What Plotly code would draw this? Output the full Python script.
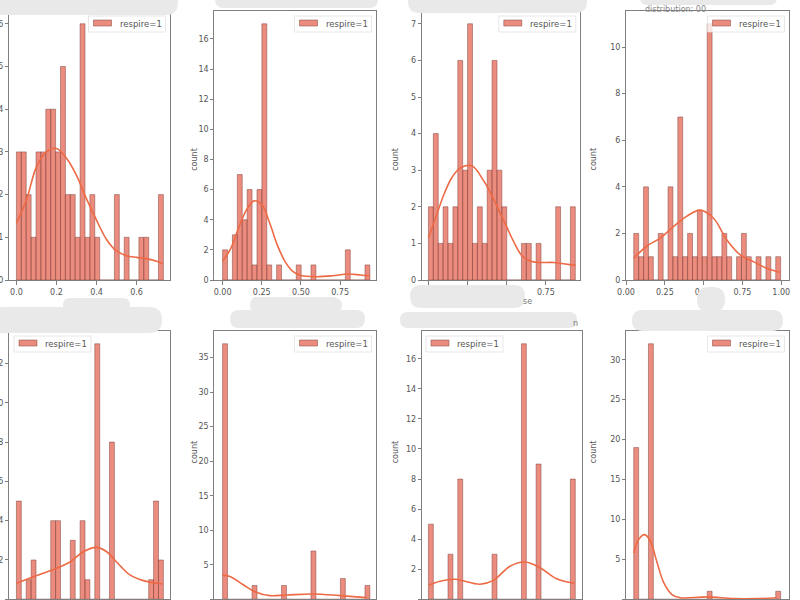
import numpy as np
import plotly.graph_objects as go

W = 800
H = 600
BAR_FILL = "rgba(228,96,76,0.72)"
BAR_EDGE = "rgba(120,62,54,0.6)"
KDE_COLOR = "#EE6A45"
FRAME = "#7f7f7f"
TEXT = "#555555"
SERIES = "respire=1"

# histogram counts, 30 bins each
counts_1 = [3,3,2,1,3,3,4,4,3,5,2,2,1,6,1,2,1,0,0,0,2,0,1,0,0,1,1,0,0,2]
counts_2 = [2,0,3,7,4,6,1,6,17,1,0,1,0,0,0,1,0,0,1,0,0,0,0,0,0,2,0,0,0,1]
counts_3 = [2,4,1,2,1,2,6,3,7,1,2,1,3,6,3,2,0,0,0,1,1,0,1,0,0,0,2,0,0,2]
counts_4 = [2,1,4,1,0,2,0,4,1,7,1,2,1,3,1,11,1,1,2,1,0,1,2,1,0,1,0,1,0,1]
counts_5 = [5,0,1,2,0,0,0,4,4,0,0,3,0,4,1,0,13,0,0,8,0,0,0,0,0,0,0,1,5,2]
counts_6 = [37,0,0,0,0,0,2,0,0,0,0,0,2,0,0,0,0,0,7,0,0,0,0,0,3,0,0,0,0,2]
counts_7 = [5,0,0,0,3,0,8,0,0,0,0,0,0,3,0,0,0,0,0,17,0,0,9,0,0,0,0,0,0,8]
counts_8 = [19,0,0,32,0,0,0,0,0,0,0,0,0,0,0,1,0,0,0,0,0,0,0,0,0,0,0,0,0,1]

# smallest and largest value of each feature
lo_hi = [(0, 0.734), (0, 0.94), (0, 0.938), (0.05, 0.996),
         (0, 0.734), (0, 0.94), (0, 0.938), (0.05, 0.996)]

# density curves
kde_x_1 = [0,.05,.1,.15,.2,.25,.3,.35,.4,.45,.5,.55,.6,.65,.7,.73]
kde_y_1 = [1.33,1.87,2.65,3.0,3.08,2.85,2.45,1.9,1.4,.95,.68,.57,.53,.5,.44,.38]
kde_x_2 = [0,.05,.1,.15,.2,.25,.3,.35,.4,.45,.5,.6,.7,.8,.88,.94]
kde_y_2 = [1.25,2.05,3.4,4.6,5.25,5.0,3.8,2.3,1.2,.55,.3,.22,.28,.4,.33,.27]
kde_x_3 = [0,.05,.1,.15,.2,.277,.35,.4,.45,.5,.55,.6,.65,.7,.8,.85,.94]
kde_y_3 = [1.15,1.75,2.35,2.8,3.05,3.12,2.73,2.35,1.9,1.45,1.0,.65,.52,.48,.48,.45,.4]
kde_x_4 = [.05,.135,.22,.307,.39,.478,.564,.65,.736,.82,.908,.994]
kde_y_4 = [.93,1.46,1.8,2.3,2.73,3.0,2.65,1.72,1.08,.79,.5,.32]
kde_x_5 = [0,.085,.185,.268,.334,.401,.451,.5,.567,.634,.729]
kde_y_5 = [.81,1.15,1.52,1.9,2.42,2.64,2.42,1.9,1.24,.95,.78]
kde_x_6 = [0,.047,.132,.206,.302,.409,.579,.749,.919]
kde_y_6 = [3.5,3.3,2.1,1.1,.53,.63,.77,.53,.24]
kde_x_7 = [0,.074,.17,.33,.415,.521,.617,.713,.819,.934]
kde_y_7 = [.93,1.2,1.33,1.0,1.26,2.2,2.48,2.1,1.37,1.06]
kde_x_8 = [.05,.082,.12,.157,.2,.243,.296,.35,.521,.693,.843,.97]
kde_y_8 = [5.8,7.5,8.1,7.3,4.6,2.1,.6,.2,.3,.08,.08,.2]

all_counts = [counts_1, counts_2, counts_3, counts_4, counts_5, counts_6, counts_7, counts_8]
all_kde = [(kde_x_1, kde_y_1), (kde_x_2, kde_y_2), (kde_x_3, kde_y_3), (kde_x_4, kde_y_4),
           (kde_x_5, kde_y_5), (kde_x_6, kde_y_6), (kde_x_7, kde_y_7), (kde_x_8, kde_y_8)]

# frames in pixels: left, right, top, bottom
frames = [(9,170,11,280), (214.3,376,11,280), (421.7,580.3,11,280), (626,789,11,280),
          (9,170,331,599.3), (214.3,376,331,599.3), (421.7,581.7,331,599.3), (626,789,331,599.3)]
x_ranges = [[-.037,.767], [-.053,.979], [-.043,.970], [0,1.05],
            [-.037,.767], [-.053,.979], [-.043,.979], [0,1.05]]
y_tops = [6.3, 17.85, 7.35, 11.55, 13.65, 38.85, 17.85, 33.6]
y_steps = [1, 2, 1, 2, 2, 5, 2, 5]
x_ticks = [[0,.2,.4,.6], [0,.25,.5,.75], [0,.25,.5,.75], [0,.25,.5,.75,1]]
x_fmt = [".1f", ".2f", ".2f", ".2f"]
legend_left = {4: 14, 6: 426}

# grey smears over the titles
smears = [(-10,178,-10,15), (215,378,-10,8), (408,587,-10,13), (640,777,-10,5),
          (410,525,285,308), (400,577,312,328), (-10,162,307,333), (63,130,298,312),
          (230,365,310,328), (250,342,298,312), (632,783,310,331), (697,725,287,312),
          (252,337,297,304)]


def px(v):
    return v / W


def py(v):
    return 1 - v / H


def blob(x0, x1, y0, y1):
    r = (y1 - y0) / 2
    return (f"M{px(x0+r)},{py(y0)} L{px(x1-r)},{py(y0)} Q{px(x1)},{py(y0)} {px(x1)},{py(y0+r)} "
            f"Q{px(x1)},{py(y1)} {px(x1-r)},{py(y1)} L{px(x0+r)},{py(y1)} "
            f"Q{px(x0)},{py(y1)} {px(x0)},{py(y0+r)} Q{px(x0)},{py(y0)} {px(x0+r)},{py(y0)} Z")


def paper_rect(x0, x1, y0, y1, fill, line):
    return dict(type="rect", xref="paper", yref="paper", x0=px(x0), x1=px(x1), y0=py(y0), y1=py(y1),
                fillcolor=fill, line=line, layer="above")


fig = go.Figure()
layout = {}
shapes = [dict(type="path", path=blob(*s), xref="paper", yref="paper",
               fillcolor="#e9e9e9", line=dict(width=0), layer="above") for s in smears]
notes = [
    dict(text="distribution: 00", x=px(708), y=py(3), xref="paper", yref="paper",
         showarrow=False, font=dict(size=8, color="#888888")),
    dict(text="se", x=px(527), y=py(301), xref="paper", yref="paper",
         showarrow=False, font=dict(size=8, color="#777777")),
    dict(text="n", x=px(580), y=py(323), xref="paper", yref="paper",
         showarrow=False, font=dict(size=8, color="#777777")),
]

for i in range(8):
    n = i + 1
    suffix = "" if n == 1 else str(n)
    edges = np.linspace(lo_hi[i][0], lo_hi[i][1], 31)
    fig.add_trace(go.Bar(x=edges[:-1], y=all_counts[i], width=edges[1] - edges[0], offset=0,
                         marker=dict(color=BAR_FILL, line=dict(color=BAR_EDGE, width=0.8)),
                         name=SERIES, showlegend=False, xaxis="x" + suffix, yaxis="y" + suffix))
    fig.add_trace(go.Scatter(x=all_kde[i][0], y=all_kde[i][1], mode="lines",
                             line=dict(color=KDE_COLOR, width=1.6, shape="spline"),
                             showlegend=False, xaxis="x" + suffix, yaxis="y" + suffix))
    l, r, t, b = frames[i]
    xa = dict(domain=[l / W, r / W], range=x_ranges[i], anchor="y" + suffix, showgrid=False,
              zeroline=False, showline=True, mirror=True, linecolor=FRAME, linewidth=1)
    if i < 4:
        xa.update(tickmode="array", tickvals=x_ticks[i], tickformat=x_fmt[i], ticks="outside",
                  ticklen=4, tickcolor=FRAME, tickfont=dict(size=8, color=TEXT))
    else:
        xa.update(showticklabels=False, ticks="")
    ya = dict(domain=[1 - b / H, 1 - t / H], range=[0, y_tops[i]], anchor="x" + suffix,
              showgrid=False, zeroline=False, showline=True, mirror=True, linecolor=FRAME,
              linewidth=1, dtick=y_steps[i], ticks="outside", ticklen=3, tickcolor=FRAME,
              tickfont=dict(size=8, color=TEXT))
    layout["xaxis" + suffix] = xa
    layout["yaxis" + suffix] = ya

    # the two left panels have their y title outside the picture
    if i not in (0, 4):
        notes.append(dict(text="count", x=px(l - 26), y=py((t + b) / 2), xref="paper", yref="paper",
                          textangle=-90, showarrow=False, font=dict(size=8, color=TEXT)))

    # legend box, matplotlib proportions
    box_l = legend_left.get(i, r - 81.5)
    shapes.append(paper_rect(box_l, box_l + 77, t + 5, t + 21, "rgba(255,255,255,0.8)",
                             dict(color="#dddddd", width=0.7)))
    shapes.append(paper_rect(box_l + 5, box_l + 23, t + 9, t + 15, BAR_FILL,
                             dict(color=BAR_EDGE, width=0.8)))
    notes.append(dict(text=SERIES, x=px(box_l + 29), y=py(t + 12.5), xref="paper", yref="paper",
                      xanchor="left", yanchor="middle", showarrow=False,
                      font=dict(size=8.5, color=TEXT)))

fig.update_layout(
    width=W, height=H, margin=dict(l=0, r=0, t=0, b=0, autoexpand=False),
    paper_bgcolor="white", plot_bgcolor="white", barmode="overlay", showlegend=False,
    font=dict(family="DejaVu Sans", color=TEXT),
    shapes=shapes, annotations=notes,
    **layout,
)

# page margin would push the figure 8px off
fig.write_html("out.html", config=dict(displayModeBar=False),
               post_script="document.body.style.margin='0';")
